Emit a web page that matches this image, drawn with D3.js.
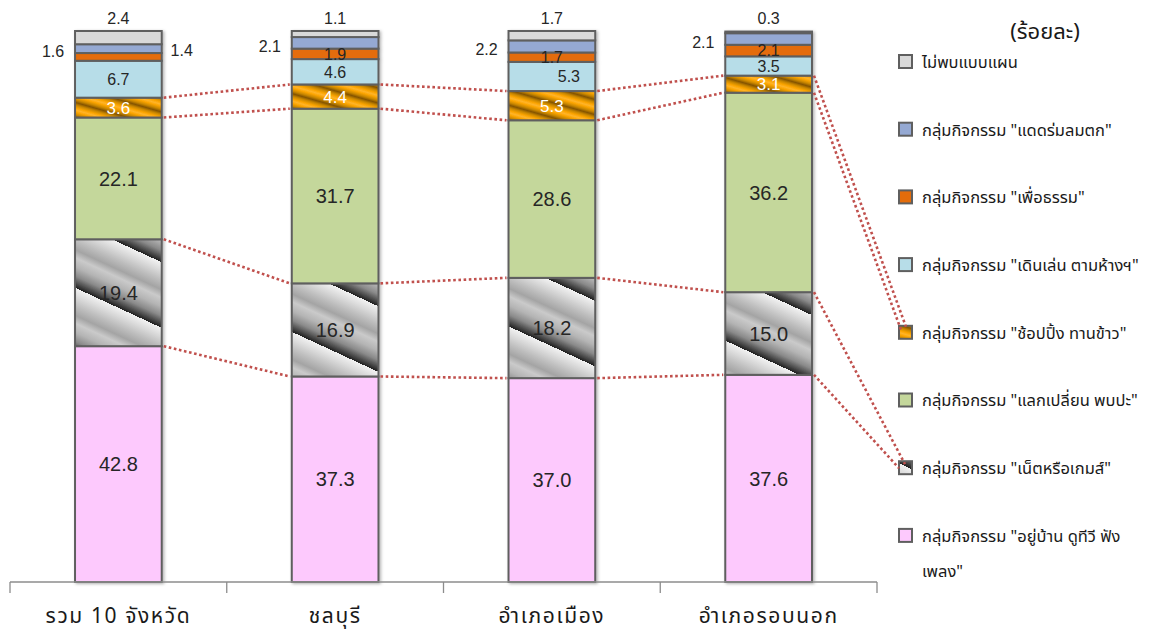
<!DOCTYPE html>
<html lang="th">
<head>
<meta charset="utf-8">
<script src="https://cdn.jsdelivr.net/npm/d3@7"></script>
<style>
  html, body { margin: 0; padding: 0; background: #fff; }
  svg { display: block; }
  .num { font-family: "Liberation Sans", Arial, sans-serif; }
  .thai { font-family: "Noto Sans Thai", "Noto Sans Thai Looped", "Noto Sans", "Liberation Sans", "DejaVu Sans", sans-serif; }
</style>
</head>
<body>
<svg id="chart" width="1167" height="635"></svg>
<script>
// Categories along the x axis
const categories = ["รวม 10 จังหวัด", "ชลบุรี", "อำเภอเมือง", "อำเภอรอบนอก"];

// Series, listed from the bottom of each stack to the top
const seriesKeys = ["home", "net", "meet", "shop", "walk", "merit", "relax", "none"];
const seriesLabels = [
  "กลุ่มกิจกรรม \"อยู่บ้าน ดูทีวี ฟังเพลง\"",
  "กลุ่มกิจกรรม \"เน็ตหรือเกมส์\"",
  "กลุ่มกิจกรรม \"แลกเปลี่ยน พบปะ\"",
  "กลุ่มกิจกรรม \"ช้อปปิ้ง ทานข้าว\"",
  "กลุ่มกิจกรรม \"เดินเล่น ตามห้างฯ\"",
  "กลุ่มกิจกรรม \"เพื่อธรรม\"",
  "กลุ่มกิจกรรม \"แดดร่มลมตก\"",
  "ไม่พบแบบแผน"
];

// Percentages per category (same order as categories)
const homeValues  = [42.8, 37.3, 37.0, 37.6];
const netValues   = [19.4, 16.9, 18.2, 15.0];
const meetValues  = [22.1, 31.7, 28.6, 36.2];
const shopValues  = [3.6, 4.4, 5.3, 3.1];
const walkValues  = [6.7, 4.6, 5.3, 3.5];
const meritValues = [1.4, 1.9, 1.7, 2.1];
const relaxValues = [1.6, 2.1, 2.2, 2.1];
const noneValues  = [2.4, 1.1, 1.7, 0.3];

const unitLabel = "(ร้อยละ)";

// Series whose tops are joined by dotted connector lines
const linkedSeries = ["home", "net", "meet", "shop"];

const valuesByKey = {
  home: homeValues, net: netValues, meet: meetValues, shop: shopValues,
  walk: walkValues, merit: meritValues, relax: relaxValues, none: noneValues
};
const rows = categories.map((c, i) => {
  const r = { category: c };
  seriesKeys.forEach(k => { r[k] = valuesByKey[k][i]; });
  return r;
});

const fills = {
  home: "#fdc9fd", net: "url(#metal)", meet: "#c4d79b", shop: "url(#gold)",
  walk: "#b7dde8", merit: "#e46c0a", relax: "#95a9d3", none: "#d9d9d9"
};
const edge = "#5f5f5f";
const linkColor = "#c0504d";

const svg = d3.select("#chart");
const defs = svg.append("defs");

const shadow = defs.append("filter").attr("id", "shadow")
  .attr("x", "-20%").attr("y", "-5%").attr("width", "140%").attr("height", "110%");
shadow.append("feDropShadow").attr("dx", 1.5).attr("dy", 1).attr("stdDeviation", 1.5)
  .attr("flood-color", "#000").attr("flood-opacity", 0.3);

const x = d3.scaleBand().domain(categories).range([10, 877]).paddingInner(0).paddingOuter(0);
const barW = x.bandwidth() * 0.4;
const barX = c => x(c) + (x.bandwidth() - barW) / 2;
const y = d3.scaleLinear().domain([0, 100]).range([582, 31]);

const stacked = d3.stack().keys(seriesKeys)(rows);
const byKey = {};
stacked.forEach(s => { byKey[s.key] = s; });

// Metallic grey stripes for the net/game series, one gradient per bar
function metalGradient(id, x0, y0) {
  const g = defs.append("linearGradient").attr("id", id)
    .attr("gradientUnits", "userSpaceOnUse").attr("spreadMethod", "repeat")
    .attr("x1", x0).attr("y1", y0).attr("x2", x0 + 25).attr("y2", y0 - 54);
  [[0, "#202020"], [0.07, "#4a4a4a"], [0.18, "#8a8a8a"], [0.32, "#b4b4b4"],
   [0.46, "#cacaca"], [0.58, "#a4a4a4"], [0.72, "#bdbdbd"], [0.86, "#d8d8d8"], [1, "#f2f2f2"]]
    .forEach(([o, c]) => g.append("stop").attr("offset", o).attr("stop-color", c));
}
// Gold stripes for the shopping series
function goldGradient(id, x0, y0) {
  const g = defs.append("linearGradient").attr("id", id)
    .attr("gradientUnits", "userSpaceOnUse").attr("spreadMethod", "reflect")
    .attr("x1", x0).attr("y1", y0).attr("x2", x0 + 2).attr("y2", y0 - 7);
  [[0, "#845400"], [0.35, "#c98700"], [0.72, "#fba400"], [1, "#ffb42a"]]
    .forEach(([o, c]) => g.append("stop").attr("offset", o).attr("stop-color", c));
}

// Bars
const barGroups = svg.selectAll("g.bar").data(categories).join("g")
  .attr("class", "bar").attr("filter", "url(#shadow)");

categories.forEach((c, i) => {
  const g = barGroups.filter(d => d === c);
  const bx = barX(c);
  seriesKeys.forEach(k => {
    const seg = byKey[k][i];
    let fill = fills[k];
    if (k === "net") {
      const id = "metal" + i;
      metalGradient(id, bx + barW, y(seg[1]) + 23);
      fill = `url(#${id})`;
    } else if (k === "shop") {
      const id = "gold" + i;
      goldGradient(id, bx, y(seg[0]));
      fill = `url(#${id})`;
    }
    g.append("rect")
      .attr("x", bx).attr("width", barW)
      .attr("y", y(seg[1])).attr("height", y(seg[0]) - y(seg[1]))
      .attr("fill", fill).attr("stroke", edge).attr("stroke-width", 2);
  });
});

// Dotted links between neighbouring bars at the top of selected series
linkedSeries.forEach(k => {
  for (let i = 0; i < categories.length - 1; i++) {
    const a = byKey[k][i], b = byKey[k][i + 1];
    svg.append("line")
      .attr("x1", barX(categories[i]) + barW + 2).attr("y1", y(a[1]))
      .attr("x2", barX(categories[i + 1]) - 2).attr("y2", y(b[1]))
      .attr("stroke", linkColor).attr("stroke-width", 2.6)
      .attr("stroke-dasharray", "2.6,2.6");
  }
});

// Value labels
const last = categories.length - 1;
categories.forEach((c, i) => {
  const bx = barX(c), cx = bx + barW / 2;
  seriesKeys.forEach(k => {
    const seg = byKey[k][i];
    const v = seg[1] - seg[0];
    const mid = (y(seg[0]) + y(seg[1])) / 2;
    let tx = cx, ty = mid, size = 16, color = "#262626";
    if (k === "none") { ty = y(seg[1]) - 13; }
    else if (k === "relax") { tx = bx - 22; ty = mid + 3; }
    else if (k === "merit") { if (i === 0) { tx = bx + barW + 20; ty = mid - 7; } }
    else if (k === "shop") { color = "#ffffff"; size = 17; }
    else if (k === "walk") { if (i === 2) tx = cx + 17; }
    else { size = 20; }
    svg.append("text").attr("class", "num")
      .attr("x", tx).attr("y", ty).attr("dy", "0.36em")
      .attr("text-anchor", "middle").attr("font-size", size)
      .attr("fill", color).text(v.toFixed(1));
  });
});

// Category axis: baseline with ticks at the band edges
const axisG = svg.append("g").attr("transform", `translate(0,${y(0)})`)
  .call(d3.axisBottom(x).tickSize(0).tickPadding(26));
axisG.select(".domain").attr("stroke", "#8c8c8c").attr("stroke-width", 1.3)
  .attr("d", `M${x.range()[0]},0H${x.range()[1]}`);
axisG.selectAll(".tick text").attr("class", "thai").attr("font-size", 21)
  .attr("fill", "#1a1a1a").attr("letter-spacing", 1.6);
const edges = categories.map(c => x(c)).concat([x.range()[1]]);
axisG.selectAll("line.edge").data(edges).join("line").attr("class", "edge")
  .attr("x1", d => d).attr("x2", d => d).attr("y1", 0).attr("y2", 11)
  .attr("stroke", "#8c8c8c").attr("stroke-width", 1.3);

// Legend, listed top-down
const legendOrder = seriesKeys.slice().reverse();
const legendTop = 62, legendStep = 67.7;
const lg = svg.append("g");
legendOrder.forEach((k, j) => {
  const cy = legendTop + j * legendStep;
  let fill = fills[k];
  if (k === "net") { metalGradient("metalL", 912, cy + 1); fill = "url(#metalL)"; }
  if (k === "shop") { goldGradient("goldL", 898, cy + 7); fill = "url(#goldL)"; }
  lg.append("rect").attr("x", 899).attr("y", cy - 7).attr("width", 13).attr("height", 13)
    .attr("fill", fill).attr("stroke", edge).attr("stroke-width", 2);
  const label = seriesLabels[seriesKeys.indexOf(k)];
  const t = lg.append("text").attr("class", "thai").attr("x", 922).attr("y", cy)
    .attr("dy", "0.36em").attr("font-size", 16.5).attr("fill", "#1a1a1a");
  if (k === "home") {
    t.append("tspan").text("กลุ่มกิจกรรม \"อยู่บ้าน ดูทีวี ฟัง");
    t.append("tspan").attr("x", 922).attr("dy", 35).text("เพลง\"");
  } else {
    t.text(label);
  }
});
svg.append("text").attr("class", "thai").attr("x", 1045).attr("y", 31)
  .attr("dy", "0.36em").attr("text-anchor", "middle").attr("font-size", 22)
  .attr("fill", "#1a1a1a").text(unitLabel);

// Connectors from the last bar to the patterned legend keys
const lastRight = barX(categories[last]) + barW + 2;
const shopKeyY = legendTop + legendOrder.indexOf("shop") * legendStep;
const netKeyY = legendTop + legendOrder.indexOf("net") * legendStep;
[[byKey.shop[last][1], 906, shopKeyY - 6], [byKey.meet[last][1], 901, shopKeyY - 3],
 [byKey.net[last][1], 905, netKeyY - 4], [byKey.home[last][1], 899, netKeyY]]
  .forEach(([v, ex, ey]) => {
    svg.append("line").attr("x1", lastRight).attr("y1", y(v)).attr("x2", ex).attr("y2", ey)
      .attr("stroke", linkColor).attr("stroke-width", 2.6).attr("stroke-dasharray", "2.6,2.6");
  });
</script>
</body>
</html>
